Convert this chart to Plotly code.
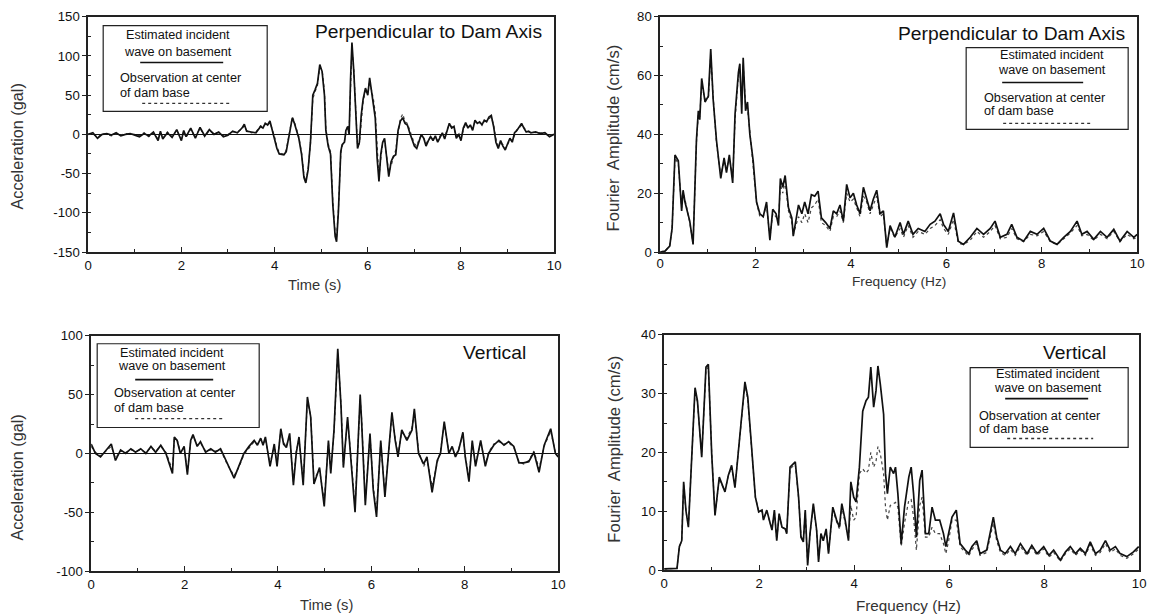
import plotly.graph_objects as go

W, H = 1154, 616

# ---------------- data ----------------
# Top-left: acceleration, perpendicular to dam axis
tl_t = [0, 0.1, 0.2, 0.3, 0.4, 0.5, 0.6, 0.7, 0.8, 0.9,
        1.0, 1.1, 1.2, 1.3, 1.4, 1.5, 1.55, 1.6, 1.7, 1.8,
        1.9, 2.0, 2.05, 2.1, 2.2, 2.3, 2.4, 2.5, 2.6, 2.7,
        2.8, 2.9, 3.0, 3.1, 3.2, 3.3, 3.35, 3.4, 3.5, 3.6,
        3.7, 3.75, 3.8, 3.85, 3.9, 3.95, 4.0, 4.05, 4.1, 4.15,
        4.2, 4.25, 4.3, 4.35, 4.38, 4.42, 4.47, 4.52, 4.58, 4.63,
        4.67, 4.72, 4.77, 4.82, 4.87, 4.92, 4.97, 5.02, 5.07, 5.1,
        5.15, 5.2, 5.25, 5.3, 5.33, 5.37, 5.42, 5.45, 5.5, 5.53,
        5.57, 5.6, 5.63, 5.66, 5.7, 5.74, 5.78, 5.82, 5.86, 5.9,
        5.95, 6.0, 6.04, 6.08, 6.12, 6.16, 6.2, 6.24, 6.28, 6.32,
        6.36, 6.4, 6.45, 6.5, 6.55, 6.6, 6.65, 6.7, 6.75, 6.8,
        6.85, 6.9, 6.95, 7.0, 7.05, 7.1, 7.15, 7.2, 7.25, 7.3,
        7.35, 7.4, 7.45, 7.5, 7.55, 7.6, 7.65, 7.7, 7.75, 7.8,
        7.85, 7.9, 7.95, 8.0, 8.05, 8.1, 8.15, 8.2, 8.25, 8.3,
        8.35, 8.4, 8.45, 8.5, 8.55, 8.6, 8.65, 8.7, 8.75, 8.8,
        8.85, 8.9, 8.95, 9.0, 9.05, 9.1, 9.15, 9.2, 9.25, 9.3,
        9.35, 9.4, 9.45, 9.5, 9.6, 9.7, 9.8, 9.9, 10.0]
tl_est = [0, 2, -5, 0, 1, -1, 2, -2, 0, 1,
          -1, -3, 1, -2, 3, -8, 4, -6, 2, -4,
          6, -8, 5, -3, 8, -5, 9, -2, 6, 0,
          3, -3, -1, 4, 2, 8, 13, 4, 3, 2,
          10, 8, 14, 12, 17, 5, -5, -18, -25, -26,
          -26, -22, -5, 15, 21, 15, 5, -5, -26, -55,
          -62, -45, -10, 50, 57, 65, 89, 80, 50, 5,
          -15, -25, -90, -130, -137, -98, -22, -13, -10, 5,
          10, 0, 70, 117, 80, 30, -18, -10, 25, 45,
          59, 50, 72, 55, 40, 21, -30, -60, -25, -10,
          -5, -30, -54, -35, -28, -26, 5, 17, 21, 14,
          12, 2, -8, -15, -18, -8, 0, -5, -15, -8,
          -3, -8, -2, -10, -4, 2, -6, 5, 14, 8,
          10, -5, 0, -8, 8, 15, 8, 12, 5, 18,
          14, 16, 12, 18, 16, 22, 24, 10, -10, -18,
          -8, -15, -20, -12, -5, -10, 2, 5, 10, 14,
          8, 3, 4, 2, 3, 1, 2, -3, 0]
tl_obs = [1, 1, -4, 1, 0, -2, 1, -1, 1, 0,
          0, -2, 2, -3, 2, -6, 3, -5, 3, -3,
          5, -6, 4, -4, 7, -4, 8, -3, 5, 1,
          2, -2, 0, 3, 3, 7, 11, 5, 2, 3,
          11, 9, 13, 11, 15, 6, -3, -16, -23, -25,
          -25, -20, -3, 17, 22, 17, 7, -3, -24, -52,
          -60, -44, -12, 45, 55, 62, 85, 82, 55, 8,
          -12, -22, -85, -126, -132, -95, -25, -15, -8, 3,
          12, 5, 65, 110, 82, 35, -15, -12, 20, 42,
          55, 52, 68, 58, 45, 28, -22, -55, -30, -12,
          -8, -25, -48, -40, -30, -20, 2, 20, 26, 16,
          14, 5, -5, -12, -15, -6, -2, -4, -12, -6,
          -2, -6, -4, -8, -2, 1, -4, 6, 12, 10,
          8, -3, 2, -6, 6, 13, 10, 10, 7, 16,
          15, 14, 14, 16, 18, 20, 22, 12, -6, -15,
          -12, -13, -18, -14, -6, -8, 0, 6, 8, 12,
          9, 4, 3, 3, 2, 2, 1, -2, 1]

# Top-right: Fourier amplitude, perpendicular to dam axis
tr_f = [0, 0.1, 0.2, 0.25, 0.31, 0.38, 0.45, 0.48, 0.52, 0.62,
        0.69, 0.76, 0.8, 0.83, 0.87, 0.94, 1.01, 1.06, 1.11, 1.18,
        1.27, 1.34, 1.39, 1.45, 1.52, 1.57, 1.64, 1.67, 1.71, 1.74,
        1.79, 1.83, 1.88, 1.95, 2.02, 2.09, 2.16, 2.23, 2.3, 2.36,
        2.43, 2.48, 2.52, 2.57, 2.62, 2.69, 2.76, 2.79, 2.9, 2.97,
        3.03, 3.1, 3.17, 3.24, 3.31, 3.38, 3.47, 3.56, 3.63, 3.7,
        3.77, 3.84, 3.91, 3.98, 4.05, 4.12, 4.19, 4.26, 4.33, 4.4,
        4.47, 4.54, 4.61, 4.68, 4.75, 4.82, 4.92, 5.03, 5.1, 5.2,
        5.3, 5.41, 5.55, 5.66, 5.76, 5.87, 5.94, 6.04, 6.15, 6.25,
        6.36, 6.5, 6.64, 6.78, 6.92, 7.02, 7.13, 7.27, 7.37, 7.48,
        7.62, 7.76, 7.9, 8.04, 8.18, 8.32, 8.46, 8.6, 8.74, 8.84,
        8.95, 9.09, 9.23, 9.37, 9.51, 9.64, 9.79, 9.93, 10.0]
tr_est = [0, 0.3, 2, 8, 33, 31, 14, 21, 17, 10.5,
          2.6, 38, 48, 45, 59, 51, 53, 69, 52, 38,
          25, 32, 27, 33, 23.5, 47, 61, 64, 47, 66,
          48, 51, 40, 31, 17, 13, 12, 17, 4, 14.5,
          13, 9, 25, 22, 26, 15, 11.6, 5.4, 16, 13,
          17, 13, 19.5, 19, 20.7, 11.6, 10, 8, 14, 13,
          16, 10.5, 23, 18.4, 20, 16, 13, 22, 18, 14,
          18, 21, 13, 14, 1.5, 9, 5, 10, 6, 10.5,
          6, 8, 7, 9.4, 10.5, 13, 9.4, 7, 13.3, 3.7,
          2.6, 5, 8, 6, 8, 10.5, 5, 6, 9.4, 5,
          3.7, 7, 6, 8, 3.7, 2.6, 5, 7, 10.5, 6,
          7, 4.3, 7, 5, 7.7, 3.7, 7, 5, 6]
tr_obs = [0, 0.3, 2, 8, 32, 30, 15, 20, 18, 10,
          3, 37, 47, 46, 57, 52, 52, 67, 53, 37,
          26, 31, 28, 32, 25, 45, 60, 62, 50, 64,
          50, 49, 41, 30, 17, 12, 12, 16, 5, 13,
          12, 10, 23, 20, 24, 14, 10, 6, 12, 10,
          13, 10, 15, 16, 18, 10, 9, 7, 12, 12,
          14, 10, 20, 17, 18, 15, 12, 19, 17, 13,
          16, 19, 12, 13, 2, 8, 5, 8, 5, 9,
          5, 7, 6, 8, 9, 11, 8, 6, 11, 3,
          2.5, 4, 7, 5, 7, 9, 4.5, 5, 8, 4.5,
          3.5, 6, 5.5, 7, 3.5, 2.5, 4.5, 6.5, 9, 5.5,
          6, 4, 6, 4.5, 7, 3.5, 6, 4.5, 5]

# Bottom-left: acceleration, vertical
bl_t = [0, 0.09, 0.2, 0.34, 0.43, 0.52, 0.63, 0.74, 0.85, 0.95,
        1.06, 1.17, 1.28, 1.38, 1.49, 1.6, 1.67, 1.74, 1.78, 1.84,
        1.91, 1.99, 2.06, 2.13, 2.18, 2.27, 2.34, 2.45, 2.56, 2.66,
        2.77, 2.91, 3.06, 3.16, 3.27, 3.38, 3.49, 3.56, 3.63, 3.68,
        3.73, 3.83, 3.92, 3.98, 4.06, 4.12, 4.18, 4.25, 4.33, 4.39,
        4.45, 4.54, 4.63, 4.7, 4.77, 4.89, 4.99, 5.08, 5.13, 5.2,
        5.28, 5.35, 5.4, 5.49, 5.56, 5.65, 5.76, 5.79, 5.87, 5.97,
        6.04, 6.11, 6.2, 6.29, 6.36, 6.44, 6.51, 6.57, 6.65, 6.76,
        6.87, 6.92, 7.01, 7.12, 7.19, 7.3, 7.41, 7.48, 7.56, 7.66,
        7.73, 7.8, 7.87, 7.96, 8.01, 8.09, 8.16, 8.23, 8.34, 8.44,
        8.51, 8.62, 8.73, 8.84, 8.94, 9.05, 9.16, 9.26, 9.37, 9.48,
        9.59, 9.7, 9.84, 9.94, 10.0]
bl_est = [8, 0, -3, 4, 8, -6, 3, 0, 4, 1,
          4, 0, 6, 1, 7, 0, -8, -17, 14, 11,
          0, 6, -18, 11, 16, 6, 10, 1, 4, 1,
          4, -8, -21, -11, 0, 6, 11, 7, 13, 7,
          14, -11, 8, -11, 21, 8, 5, 17, -27, 0,
          14, -27, 48, 31, -26, -12, -45, 11, -17, 20,
          89, 40, -12, 31, -3, -50, 50, 28, -44, 17,
          -31, -54, 11, -37, -3, 35, 11, -3, 20, 11,
          20, 38, 0, -9, -3, -33, -6, 0, 27, 0,
          6, -3, 3, 18, -3, -24, 11, -11, 11, -11,
          0, 7, 11, 7, 10, 6, -8, -8, -7, 1,
          -16, 7, 21, 0, -3]
bl_obs = [6, 1, -2, 3, 6, -4, 2, 1, 3, 2,
          3, 1, 5, 2, 6, 1, -6, -14, 12, 12,
          1, 5, -16, 10, 15, 7, 9, 2, 3, 2,
          3, -9, -19, -12, -1, 5, 10, 8, 12, 8,
          12, -9, 7, -9, 19, 9, 6, 15, -24, 2,
          12, -24, 45, 32, -22, -14, -40, 9, -15, 18,
          85, 42, -10, 28, -1, -46, 46, 30, -40, 15,
          -28, -50, 9, -34, -5, 32, 13, -1, 18, 13,
          22, 35, 2, -11, -5, -28, -8, 2, 25, 1,
          5, -2, 4, 16, -2, -20, 9, -9, 10, -9,
          1, 8, 10, 8, 9, 5, -7, -9, -6, 2,
          -13, 6, 19, 1, -2]

# Bottom-right: Fourier amplitude, vertical
br_f = [0, 0.2, 0.27, 0.32, 0.37, 0.41, 0.46, 0.51, 0.58, 0.65,
        0.7, 0.79, 0.88, 0.93, 1.0, 1.07, 1.16, 1.21, 1.28, 1.35,
        1.42, 1.49, 1.56, 1.64, 1.7, 1.76, 1.85, 1.92, 1.99, 2.06,
        2.09, 2.16, 2.23, 2.27, 2.32, 2.37, 2.42, 2.48, 2.55, 2.58,
        2.65, 2.76, 2.83, 2.88, 2.93, 2.97, 3.02, 3.07, 3.14, 3.21,
        3.25, 3.3, 3.35, 3.41, 3.46, 3.55, 3.63, 3.69, 3.74, 3.81,
        3.88, 3.93, 3.99, 4.04, 4.11, 4.18, 4.25, 4.3, 4.35, 4.41,
        4.46, 4.5, 4.55, 4.62, 4.66, 4.7, 4.76, 4.83, 4.87, 4.92,
        4.99, 5.06, 5.15, 5.2, 5.25, 5.31, 5.38, 5.43, 5.5, 5.57,
        5.64, 5.71, 5.8, 5.88, 5.93, 5.99, 6.06, 6.15, 6.23, 6.34,
        6.41, 6.48, 6.58, 6.65, 6.79, 6.86, 6.93, 7.0, 7.08, 7.18,
        7.29, 7.39, 7.5, 7.64, 7.74, 7.85, 7.99, 8.1, 8.2, 8.34,
        8.45, 8.55, 8.66, 8.76, 8.87, 8.97, 9.08, 9.18, 9.29, 9.39,
        9.5, 9.6, 9.74, 9.88, 9.99]
br_est = [0.2, 0.2, 0.3, 4, 5, 15, 10, 7.3, 18.6, 31,
          28.8, 19.2, 34.5, 35, 19.8, 9.3, 15.8, 14.7, 13.3, 16.1,
          17.8, 14, 20, 27, 32, 29.4, 19.8, 12.4, 9.9, 10.2,
          8.5, 10.2, 8, 6.8, 10.2, 5, 9.6, 7.3, 7, 6.2,
          17.5, 18.4, 12.4, 5.6, 4.8, 10.2, 0.8, 6.2, 11.3, 6.8,
          1.4, 6.2, 5, 7, 2.8, 10.7, 8.5, 7.3, 11.3, 8.5,
          5, 15, 12.4, 11.6, 17.5, 27, 28.8, 29.4, 34.5, 27.7,
          30.5, 34.7, 31.6, 26.5, 16.4, 13, 17.5, 16.4, 17.5, 13,
          4.5, 10.7, 15.8, 17.5, 13, 5.6, 15.2, 17, 6.2, 6.2,
          10.7, 8.5, 8.5, 6.2, 4, 6.2, 9, 10.2, 4.5, 3.4,
          2.8, 4, 5, 2.8, 3.4, 6.2, 9, 5.6, 3.4, 2.8,
          4, 2.8, 4.5, 2.8, 4.2, 2.8, 4, 2.5, 3.4, 1.7,
          3.1, 4, 2.8, 3.7, 2.8, 4.8, 2.8, 3.4, 5, 3.4,
          4, 2.8, 2.3, 3.1, 4]
br_obs = [0.2, 0.2, 0.3, 4, 5, 14.5, 10, 7.5, 18, 30.5,
          28.5, 19.5, 34, 34.5, 20, 9.5, 15.5, 14.5, 13.5, 16,
          17.5, 14.2, 20, 26.8, 31.5, 29, 19.5, 12.4, 10, 10,
          8.7, 10, 8, 7, 10, 5.2, 9.4, 7.3, 7, 6.4,
          17.2, 18, 12.2, 5.8, 5, 10, 1.2, 6, 11, 6.6,
          1.8, 6, 5, 6.8, 3, 10.3, 8.2, 7, 10.8, 8.2,
          5.2, 11, 8.5, 9, 16.4, 17.2, 16.5, 17, 20, 17.5,
          18.5, 21, 19.8, 16.4, 10.7, 8.5, 11, 11.3, 11.5, 10.7,
          4, 8, 11.9, 12, 9, 3.4, 11, 12.4, 5.6, 5.6,
          7.3, 6.2, 6.2, 4.5, 2.8, 5, 8.5, 8.5, 4, 3,
          2.4, 3.5, 4.5, 2.5, 3, 5.5, 8, 5, 3, 2.5,
          3.5, 2.5, 4, 2.5, 3.8, 2.5, 3.6, 2.2, 3, 1.5,
          2.8, 3.6, 2.5, 3.4, 2.5, 4.3, 2.5, 3, 4.5, 3,
          3.6, 2.5, 2, 2.8, 3.6]

x_tickvals = [0, 2, 4, 6, 8, 10]
x_ticktext = ["0", "2", "4", "6", "8", "10"]
tl_ytickvals = [-150, -100, -50, 0, 50, 100, 150]
tl_yticktext = ["-150", "-100", "-50", "0", "50", "100", "150"]
tr_ytickvals = [0, 20, 40, 60, 80]
tr_yticktext = ["0", "20", "40", "60", "80"]
bl_ytickvals = [-100, -50, 0, 50, 100]
bl_yticktext = ["-100", "-50", "0", "50", "100"]
br_ytickvals = [0, 10, 20, 30, 40]
br_yticktext = ["0", "10", "20", "30", "40"]

panel_titles = ["Perpendicular to Dam Axis", "Perpendicular to Dam Axis", "Vertical", "Vertical"]
legend_texts = ["Estimated incident", "wave on basement", "Observation at center", "of dam base"]
time_label = "Time (s)"
freq_label = "Frequency (Hz)"
acc_label = "Acceleration (gal)"
four_label = "Fourier  Amplitude (cm/s)"

# ---------------- layout helpers ----------------
FONT = "Liberation Sans, Arial, Helvetica, sans-serif"
INK = "#111111"

# correction between requested page pixels and photographed pixels
SX, BX = 0.9905, 3.8
SY, BY = 0.9784, 5.3
FS = 1.015  # font scale


def fx(px):
    return ((px - BX) / SX) / W


def fy(py):
    return 1 - ((py - BY) / SY) / H


# plot areas in reference pixels: (x0, x1, y_top, y_bottom)
areas = [
    (88, 554, 15, 251),
    (660, 1137, 15, 251),
    (91, 558, 335, 571),
    (664, 1139, 334, 570),
]
x_standoff = [0, -2, 0, 0]

fig = go.Figure()

series = [
    (tl_t, tl_est, tl_obs),
    (tr_f, tr_est, tr_obs),
    (bl_t, bl_est, bl_obs),
    (br_f, br_est, br_obs),
]

for i, (xs, est, obs) in enumerate(series):
    sfx = "" if i == 0 else str(i + 1)
    fig.add_trace(go.Scatter(x=xs, y=obs, mode="lines", xaxis="x" + sfx, yaxis="y" + sfx,
                             line=dict(color="#444444", width=1.2, dash="dot"),
                             showlegend=False, hoverinfo="skip"))
    fig.add_trace(go.Scatter(x=xs, y=est, mode="lines", xaxis="x" + sfx, yaxis="y" + sfx,
                             line=dict(color=INK, width=1.7),
                             showlegend=False, hoverinfo="skip"))

yspecs = [
    ([-150, 150], tl_ytickvals, tl_yticktext, 25, True),
    ([0, 80], tr_ytickvals, tr_yticktext, 10, False),
    ([-100, 100], bl_ytickvals, bl_yticktext, 25, True),
    ([0, 40], br_ytickvals, br_yticktext, 5, False),
]

axis_base = dict(showline=True, linecolor="#222222", linewidth=1.6, mirror=True,
                 tickwidth=1.2, tickcolor="#222222",
                 showgrid=False, fixedrange=True,
                 tickfont=dict(family=FONT, size=13 * FS, color=INK))

layout = dict(width=W, height=H, autosize=False,
              margin=dict(l=0, r=0, t=0, b=0),
              paper_bgcolor="white", plot_bgcolor="white",
              showlegend=False, font=dict(family=FONT, color=INK))

for i, (x0, x1, yt, yb) in enumerate(areas):
    sfx = "" if i == 0 else str(i + 1)
    yr, yv, yt_text, ydt, zl = yspecs[i]
    layout["xaxis" + sfx] = dict(axis_base, domain=[fx(x0), fx(x1)], range=[0, 10],
                                 anchor="y" + sfx, tickvals=x_tickvals, ticktext=x_ticktext,
                                 ticks="inside", ticklen=5, zeroline=False,
                                 ticklabelstandoff=x_standoff[i],
                                 minor=dict(ticks="inside", ticklen=3, dtick=1, tick0=0,
                                            tickcolor="#222222", showgrid=False))
    layout["yaxis" + sfx] = dict(axis_base, domain=[fy(yb), fy(yt)], range=yr,
                                 anchor="x" + sfx, tickvals=yv, ticktext=yt_text,
                                 ticks="outside", ticklen=4,
                                 zeroline=zl, zerolinecolor=INK, zerolinewidth=1.1,
                                 minor=dict(ticks="inside", ticklen=3, dtick=ydt, tick0=0,
                                            tickcolor="#222222", showgrid=False))

fig.update_layout(**layout)

annotations = []
shapes = []


def add_text(px, py, text, size, xanchor="center", angle=0, color=INK):
    annotations.append(dict(x=fx(px), y=fy(py), xref="paper", yref="paper", text=text,
                            showarrow=False, xanchor=xanchor, yanchor="middle",
                            textangle=angle,
                            font=dict(family=FONT, size=size * FS, color=color)))


# panel titles (right edge, centre y)
title_pos = [(544, 30), (1127, 32), (528, 352), (1108, 352)]
for (px, py), t in zip(title_pos, panel_titles):
    add_text(px, py, t, 19, xanchor="right")

# axis titles
add_text(17, 145, acc_label, 16, angle=-90, color="#333333")
add_text(17, 477, acc_label, 16, angle=-90, color="#333333")
add_text(613, 137, four_label, 16.5, angle=-90, color="#333333")
add_text(614, 449, four_label, 16.5, angle=-90, color="#333333")
add_text(314, 284, time_label, 14.5, color="#333333")
add_text(326, 605, time_label, 14.5, color="#333333")
add_text(899, 281, freq_label, 13.5, color="#333333")
add_text(908, 605, freq_label, 15, color="#333333")

# legends: box, text centre x, line rows
legends = [
    dict(box=(103, 24, 267, 110), cx=178, y1=33, y2=50, l1=(140, 223, 61),
         ox=118, y3=77, y4=92, l2=(142, 230, 102)),
    dict(box=(966, 46, 1128, 128), cx=1052, y1=53, y2=68, l1=(1002, 1083, 81),
         ox=982, y3=97, y4=110, l2=(1003, 1090, 122)),
    dict(box=(97, 343, 259, 427), cx=172, y1=352, y2=365, l1=(135, 213, 379),
         ox=112, y3=392, y4=407, l2=(135, 222, 418)),
    dict(box=(970, 367, 1128, 447), cx=1048, y1=373, y2=387, l1=(1005, 1088, 398),
         ox=977, y3=415, y4=428, l2=(1007, 1093, 438)),
]
for lg in legends:
    bx0, by0, bx1, by1 = lg["box"]
    shapes.append(dict(type="rect", xref="paper", yref="paper",
                       x0=fx(bx0), x1=fx(bx1), y0=fy(by1), y1=fy(by0),
                       line=dict(color="#222222", width=1.2), fillcolor="white", layer="above"))
    add_text(lg["cx"], lg["y1"], legend_texts[0], 12.5)
    add_text(lg["cx"], lg["y2"], legend_texts[1], 12.5)
    add_text(lg["ox"], lg["y3"], legend_texts[2], 12.5, xanchor="left")
    add_text(lg["ox"], lg["y4"], legend_texts[3], 12.5, xanchor="left")
    a0, a1, ay = lg["l1"]
    shapes.append(dict(type="line", xref="paper", yref="paper", x0=fx(a0), x1=fx(a1),
                       y0=fy(ay), y1=fy(ay), line=dict(color=INK, width=1.6)))
    b0, b1, byy = lg["l2"]
    shapes.append(dict(type="line", xref="paper", yref="paper", x0=fx(b0), x1=fx(b1),
                       y0=fy(byy), y1=fy(byy), line=dict(color="#333333", width=1.3, dash="dot")))

fig.update_layout(annotations=annotations, shapes=shapes)

fig.write_html("out.html", include_plotlyjs=True, config={"displayModeBar": False},
               post_script="document.body.style.margin='0';document.body.style.padding='0';"
                           "document.body.style.overflow='hidden';")
